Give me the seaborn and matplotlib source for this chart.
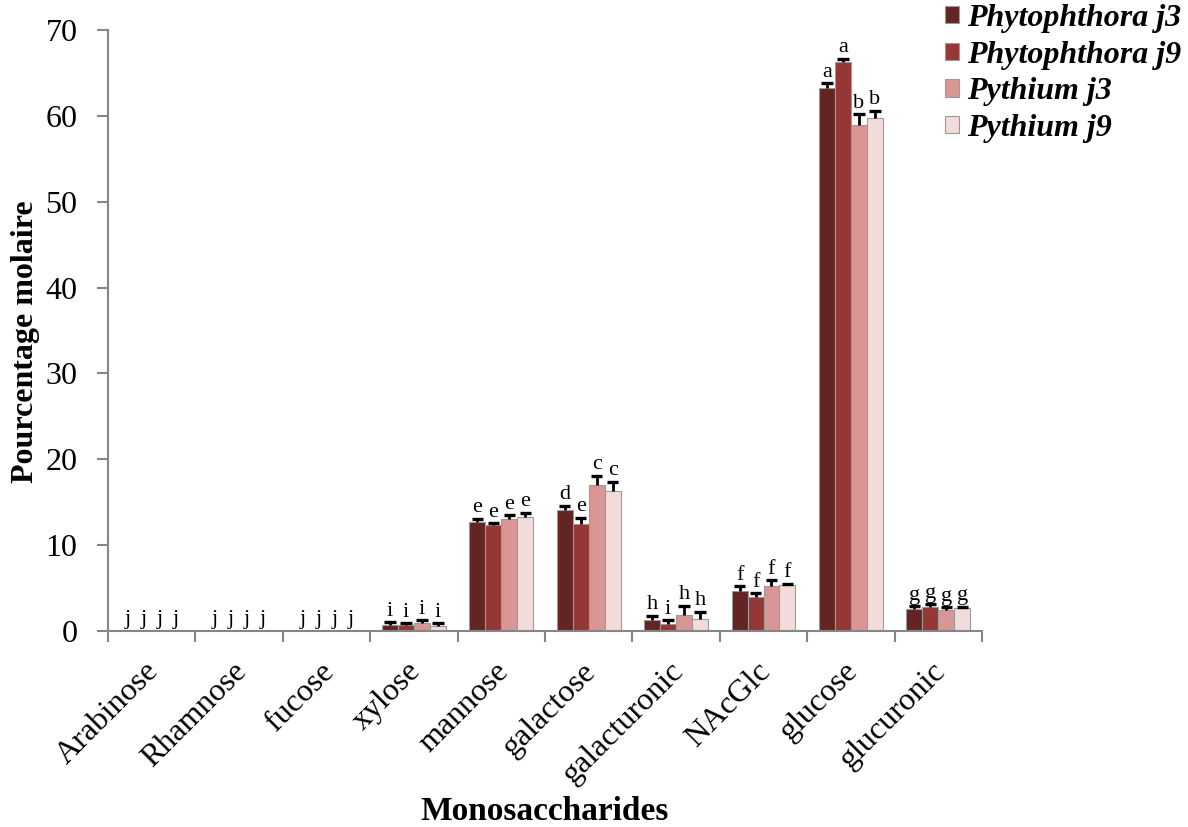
import matplotlib
matplotlib.use("Agg")
import matplotlib.pyplot as plt
import matplotlib.transforms as mtransforms
from matplotlib.patches import Patch
import seaborn as sns
import pandas as pd
import numpy as np

categories = ["Arabinose", "Rhamnose", "fucose", "xylose", "mannose", "galactose",
              "galacturonic", "NAcGlc", "glucose", "glucuronic"]
series = ["Phytophthora j3", "Phytophthora j9", "Pythium j3", "Pythium j9"]

phyto_j3 = [0.1, 0.1, 0.1, 0.7, 12.7, 14.1, 1.3, 4.7, 63.2, 2.6]
phyto_j9 = [0.1, 0.1, 0.1, 0.65, 12.3, 12.5, 0.8, 4.0, 66.3, 2.8]
pyth_j3 = [0.1, 0.1, 0.1, 0.9, 13.0, 17.0, 1.85, 5.2, 58.9, 2.45]
pyth_j9 = [0.1, 0.1, 0.1, 0.6, 13.3, 16.3, 1.4, 5.3, 59.7, 2.65]

err_phyto_j3 = [0.0, 0.0, 0.0, 0.3, 0.4, 0.5, 0.5, 0.55, 0.6, 0.3]
err_phyto_j9 = [0.0, 0.0, 0.0, 0.3, 0.3, 0.7, 0.5, 0.45, 0.35, 0.3]
err_pyth_j3 = [0.0, 0.0, 0.0, 0.4, 0.5, 1.1, 1.1, 0.75, 1.3, 0.3]
err_pyth_j9 = [0.0, 0.0, 0.0, 0.3, 0.5, 1.1, 0.85, 0.2, 0.9, 0.2]

letters_phyto_j3 = ["j", "j", "j", "i", "e", "d", "h", "f", "a", "g"]
letters_phyto_j9 = ["j", "j", "j", "i", "e", "e", "i", "f", "a", "g"]
letters_pyth_j3 = ["j", "j", "j", "i", "e", "c", "h", "f", "b", "g"]
letters_pyth_j9 = ["j", "j", "j", "i", "e", "c", "h", "f", "b", "g"]

colors = ["#632523", "#953735", "#D99694", "#F2DCDB"]

values = [phyto_j3, phyto_j9, pyth_j3, pyth_j9]
errors = [err_phyto_j3, err_phyto_j9, err_pyth_j3, err_pyth_j9]
letters = [letters_phyto_j3, letters_phyto_j9, letters_pyth_j3, letters_pyth_j9]

rows = []
for s, vals in zip(series, values):
    for c, v in zip(categories, vals):
        rows.append({"Monosaccharides": c, "Serie": s, "Valeur": v})
df = pd.DataFrame(rows)

sns.set_style("white")
plt.rcParams["font.family"] = ["Liberation Serif", "DejaVu Serif"]
plt.rcParams["text.color"] = "black"
plt.rcParams["axes.labelcolor"] = "black"
plt.rcParams["xtick.labelcolor"] = "black"
plt.rcParams["ytick.labelcolor"] = "black"

fig = plt.figure(figsize=(11.88, 8.27), dpi=100)
ax = fig.add_axes([108 / 1188, 1 - 631 / 827, (982 - 108) / 1188, (631 - 30) / 827])

sns.barplot(data=df, x="Monosaccharides", y="Valeur", hue="Serie", order=categories,
            hue_order=series, palette=colors, width=0.73, errorbar=None,
            edgecolor="#9a9a9a", linewidth=0.8, ax=ax, legend=False, saturation=1)

bar_containers = list(ax.containers)
cap_half = 0.065
for k, cont in enumerate(bar_containers):
    xs = np.array([b.get_x() + b.get_width() / 2 for b in cont])
    hs = np.array([b.get_height() for b in cont])
    errs = np.array(errors[k])
    show = errs > 0
    ax.vlines(xs[show], hs[show], hs[show] + errs[show], colors="black", linewidth=2, zorder=5)
    ax.hlines(hs[show] + errs[show], xs[show] - cap_half, xs[show] + cap_half,
              colors="black", linewidth=2.4, zorder=5)
    for x, h, e, lab in zip(xs, hs, errs, letters[k]):
        ax.text(x, h + e + 0.15, lab, ha="center", va="bottom", fontsize=16, color="black", zorder=6)

ax.set_xlim(-0.5, len(categories) - 0.5)
ax.set_ylim(0, 70)
ax.set_yticks(range(0, 71, 10))
ax.tick_params(axis="y", labelsize=23, length=8, width=1.5, color="#868686", labelcolor="black",
               pad=14, direction="out", left=True)
ax.set_xticks(range(len(categories)))
ax.set_xticks(np.arange(-0.5, len(categories), 1.0), minor=True)
ax.tick_params(axis="x", which="major", length=0, pad=26, labelsize=23, labelcolor="black")
ax.tick_params(axis="x", which="minor", length=8, width=1.5, color="#868686", direction="out", bottom=True)
ax.set_xticklabels(categories, rotation=45, ha="right", va="center", rotation_mode="anchor")
offset = mtransforms.ScaledTranslation(3 / 100, 0, fig.dpi_scale_trans)
for lbl in ax.get_xticklabels():
    lbl.set_transform(lbl.get_transform() + offset)

for side in ["top", "right"]:
    ax.spines[side].set_visible(False)
for side in ["left", "bottom"]:
    ax.spines[side].set_color("#868686")
    ax.spines[side].set_linewidth(1.5)

ax.set_xlabel("Monosaccharides", fontsize=24, fontweight="bold", labelpad=0, color="black")
ax.set_ylabel("Pourcentage molaire", fontsize=23, fontweight="bold", labelpad=4, color="black")
ax.xaxis.set_label_coords(0.5, -(820 - 631) / (631 - 30), transform=ax.transAxes)
ax.xaxis.label.set_va("baseline")
ax.yaxis.set_label_coords(-(108 - 26) / (982 - 108), 1 - (342 - 30) / (631 - 30), transform=ax.transAxes)
ax.yaxis.label.set_va("center")

handles = [Patch(facecolor=c, edgecolor="#9a9a9a", linewidth=0.8) for c in colors]
fig.legend(handles, series, loc="upper left", bbox_to_anchor=(945 / 1188, 1 - 4 / 827),
           frameon=False, prop={"size": 23, "weight": "bold", "style": "italic"},
           handlelength=0.45, handleheight=0.45, handletextpad=0.25, labelspacing=0.24,
           borderpad=0, borderaxespad=0, labelcolor="black")

fig.savefig("out.png", dpi=100)
